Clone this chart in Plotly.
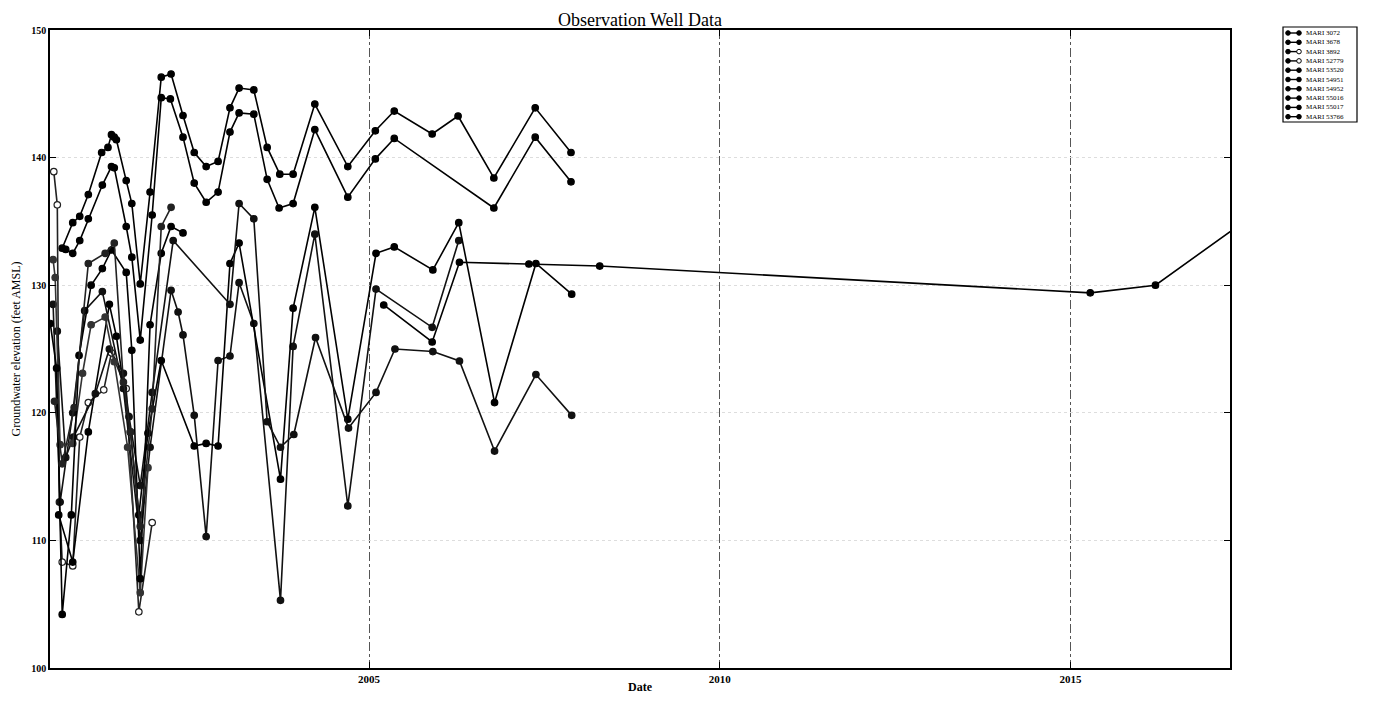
import pandas as pd
import plotly.graph_objects as go

# ---------------- data (decimal years, groundwater elevation ft AMSL) ----------------
names = ["MARI 3072", "MARI 3678", "MARI 3892", "MARI 52779", "MARI 53520",
         "MARI 54951", "MARI 54952", "MARI 55016", "MARI 55017", "MARI 53766"]

s1_t = [2000.63, 2000.78, 2000.88, 2001.0, 2001.19, 2001.28, 2001.33, 2001.37, 2001.40, 2001.54, 2001.62,
        2001.74, 2001.88, 2002.04, 2002.18, 2002.35, 2002.51, 2002.68, 2002.85, 2003.02, 2003.15, 2003.36,
        2003.55, 2003.73, 2003.92, 2004.23, 2004.70, 2005.09, 2005.36, 2005.90, 2006.27, 2006.78, 2007.37, 2007.88]
s1_v = [132.9, 134.9, 135.4, 137.1, 140.4, 140.8, 141.8, 141.6, 141.4, 138.2, 136.4,
        130.1, 137.3, 146.3, 146.55, 143.3, 140.4, 139.3, 139.7, 143.9, 145.45, 145.3,
        140.8, 138.7, 138.7, 144.2, 139.3, 142.1, 143.65, 141.85, 143.26, 138.4, 143.9, 140.4]

s2_t = [2000.68, 2000.78, 2000.88, 2001.0, 2001.2, 2001.33, 2001.37, 2001.54, 2001.62, 2001.74, 2001.91,
        2002.04, 2002.17, 2002.35, 2002.51, 2002.68, 2002.85, 2003.02, 2003.15, 2003.36, 2003.55, 2003.72,
        2003.92, 2004.23, 2004.70, 2005.09, 2005.36, 2006.78, 2007.37, 2007.88]
s2_v = [132.8, 132.5, 133.5, 135.2, 137.85, 139.3, 139.2, 134.6, 132.2, 125.7, 135.5,
        144.7, 144.6, 141.6, 138.0, 136.5, 137.3, 142.0, 143.5, 143.4, 138.3, 136.05,
        136.4, 142.2, 136.9, 139.9, 141.5, 136.05, 141.6, 138.1]

s3_t = [2000.51, 2000.56, 2000.59, 2000.63, 2000.78, 2000.88, 2001.0, 2001.22, 2001.33, 2001.54, 2001.72, 2001.91]
s3_v = [138.9, 136.3, 113.0, 108.3, 108.0, 118.1, 120.8, 121.8, 124.7, 121.9, 104.4, 111.4]

s4_t = [2000.5, 2000.6, 2000.78, 2000.95, 2001.2, 2001.5, 2001.74, 2001.88, 2002.18, 2002.28, 2002.35,
        2002.51, 2002.68, 2002.85, 2003.02, 2003.15, 2003.36, 2003.74, 2003.92, 2004.23, 2004.70, 2005.10,
        2005.90, 2006.28]
s4_v = [128.5, 113.0, 120.0, 128.0, 129.5, 121.9, 110.0, 117.3, 129.6, 127.9, 126.1,
        119.8, 110.3, 124.1, 124.45, 130.2, 127.0, 105.3, 125.2, 134.0, 112.7, 129.7,
        126.7, 133.5]

s5_t = [2000.58, 2000.78, 2001.0, 2001.3, 2001.4, 2001.6, 2001.72, 2001.85, 2002.04, 2002.51,
        2002.68, 2002.85, 2003.02, 2003.15, 2003.74, 2003.92, 2004.23, 2004.70, 2005.10, 2005.36,
        2005.91, 2006.28, 2006.79, 2007.38, 2007.89]
s5_v = [112.0, 108.3, 118.5, 128.5, 126.0, 118.5, 112.0, 118.4, 124.1, 117.4,
        117.6, 117.4, 131.7, 133.3, 114.8, 128.2, 136.1, 119.5, 132.5, 133.0,
        131.2, 134.9, 120.8, 131.7, 129.3]

s6_t = [2000.56, 2000.68, 2000.79, 2001.1, 2001.3, 2001.5, 2001.58, 2001.74, 2001.91, 2002.21,
        2003.02, 2003.15, 2003.36, 2003.55, 2003.74, 2003.93, 2004.24, 2004.71, 2005.10,
        2005.37, 2005.91, 2006.29, 2006.79, 2007.38, 2007.89]
s6_v = [126.4, 116.5, 118.1, 121.5, 125.0, 123.1, 119.7, 114.3, 121.6, 133.5,
        128.5, 136.4, 135.2, 119.3, 117.3, 118.3, 125.9, 118.8, 121.6,
        125.0, 124.8, 124.06, 117.0, 123.0, 119.8]

s7_t = [2000.5, 2000.53, 2000.6, 2000.78, 2000.92, 2001.04, 2001.24, 2001.37, 2001.56, 2001.74, 2001.85]
s7_v = [132.0, 130.6, 117.5, 117.6, 123.1, 126.9, 127.5, 124.0, 117.3, 105.9, 115.7]

s8_t = [2000.46, 2000.55, 2000.63, 2000.76, 2000.87, 2001.04, 2001.2, 2001.33, 2001.54, 2001.62, 2001.74,
        2001.88, 2002.04, 2002.18, 2002.35]
s8_v = [127.0, 123.5, 104.2, 112.0, 124.5, 130.0, 131.3, 132.76, 131.0, 124.9, 107.0,
        126.9, 132.5, 134.6, 134.1]

s9_t = [2000.52, 2000.63, 2000.8, 2001.0, 2001.24, 2001.37, 2001.5, 2001.6, 2001.74, 2001.91, 2002.04,
        2002.18]
s9_v = [120.9, 116.0, 120.4, 131.7, 132.5, 133.3, 122.4, 118.5, 111.1, 120.3, 134.6,
        136.1]

s10_t = [2005.21, 2005.90, 2006.29, 2007.28, 2008.29, 2015.28, 2016.21, 2017.5]
s10_v = [128.45, 125.55, 131.8, 131.66, 131.5, 129.4, 130.0, 135.1]

series_t = [s1_t, s2_t, s3_t, s4_t, s5_t, s6_t, s7_t, s8_t, s9_t, s10_t]
series_v = [s1_v, s2_v, s3_v, s4_v, s5_v, s6_v, s7_v, s8_v, s9_v, s10_v]
open_marker = [False, False, True, False, False, False, False, False, False, False]
legend_open = [False, False, True, True, False, False, False, False, False, False]
line_col = ["#000000", "#000000", "#222222", "#111111", "#000000",
            "#111111", "#333333", "#000000", "#222222", "#000000"]


def to_date(v):
    y = int(v)
    return pd.Timestamp(year=y, month=1, day=1) + pd.Timedelta(days=(v - y) * 365.25)


fig = go.Figure()
for nm, tt, vv, op, lc in zip(names, series_t, series_v, open_marker, line_col):
    fig.add_trace(go.Scatter(
        x=[to_date(t) for t in tt], y=vv, mode="lines+markers", name=nm,
        line=dict(color=lc, width=1.6),
        marker=dict(symbol="circle", size=6.5, color="white" if op else lc,
                    line=dict(color=lc, width=1.2)),
        showlegend=False))

SERIF = "Liberation Serif, Times New Roman, serif"
W, H = 1369, 686          # page body adds an 8px margin around the figure

fig.update_layout(
    template="none",
    width=W, height=H, autosize=False,
    paper_bgcolor="white", plot_bgcolor="white",
    margin=dict(l=42, r=147, t=22, b=26, autoexpand=False),
    title=dict(text="Observation Well Data", x=632 / W, xanchor="center",
               y=1 - 12 / H, yanchor="middle", yref="container",
               font=dict(family=SERIF, size=18, color="black")),
    font=dict(family=SERIF, color="black"),
)
fig.update_xaxes(
    automargin=False,
    range=[to_date(2000.456), to_date(2017.27)], type="date",
    tickvals=[to_date(2005.0), to_date(2010.0), to_date(2015.0)],
    ticktext=["2005", "2010", "2015"],
    ticks="inside", ticklen=6, tickcolor="black", mirror="allticks",
    showline=True, linecolor="black", linewidth=1.6,
    showgrid=True, gridcolor="#555555", gridwidth=1, griddash="dashdot",
    tickfont=dict(family=SERIF, size=11, color="black", weight="bold"),
    title=dict(text="<b>Date</b>", font=dict(family=SERIF, size=12, color="black"), standoff=5),
    zeroline=False)
fig.update_yaxes(
    automargin=False,
    range=[100, 150], tickvals=[100, 110, 120, 130, 140, 150],
    ticks="inside", ticklen=6, tickcolor="black", mirror="allticks",
    showline=True, linecolor="black", linewidth=1.6,
    showgrid=True, gridcolor="#dddddd", gridwidth=1, griddash="dot",
    tickfont=dict(family=SERIF, size=10, color="black", weight="bold"),
    title=dict(text="Groundwater elevation (feet AMSL)",
               font=dict(family=SERIF, size=12, color="black"), standoff=8),
    zeroline=False)

# ---------------- legend box (outside, upper right); positions in screen px ----------------
def px_x(p):
    return (p - 50) / 1180.0


def px_y(p):
    return (668 - p) / 638.0


shapes = [dict(type="rect", xref="paper", yref="paper",
               x0=px_x(1283), x1=px_x(1357), y0=px_y(122), y1=px_y(27),
               line=dict(color="black", width=1.2), fillcolor="white", layer="above")]
annots = []
for i, nm in enumerate(names):
    cy = 33 + i * 9.3
    shapes.append(dict(type="line", xref="paper", yref="paper",
                       x0=px_x(1288), x1=px_x(1299), y0=px_y(cy), y1=px_y(cy),
                       line=dict(color="black", width=1.4), layer="above"))
    for cx in (1288, 1299):
        shapes.append(dict(type="circle", xref="paper", yref="paper",
                           x0=px_x(cx - 2.3), x1=px_x(cx + 2.3),
                           y0=px_y(cy + 2.3), y1=px_y(cy - 2.3),
                           line=dict(color="black", width=1),
                           fillcolor="white" if (legend_open[i] and cx == 1299) else "black",
                           layer="above"))
    annots.append(dict(xref="paper", yref="paper", x=px_x(1304), y=px_y(cy),
                       xanchor="left", yanchor="middle", showarrow=False, text=nm,
                       font=dict(family=SERIF, size=7, color="black")))
fig.update_layout(shapes=shapes, annotations=annots)

fig.write_html("out.html")
